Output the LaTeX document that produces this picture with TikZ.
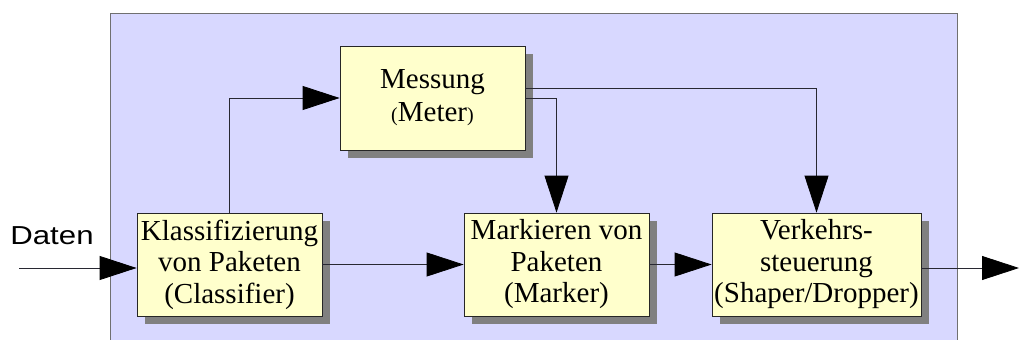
\documentclass[tikz,border=0pt]{standalone}
\usepackage{fontspec}
\usepackage{graphicx}
\setmainfont{Liberation Serif}
\newfontfamily\labelsans{Liberation Sans}
\usetikzlibrary{arrows.meta,shadows}
\definecolor{panel}{RGB}{216,216,255}
\definecolor{panelline}{RGB}{112,112,112}
\definecolor{boxfill}{RGB}{255,255,204}
\definecolor{shadowgray}{RGB}{128,128,128}
\definecolor{wire}{RGB}{40,40,50}
\newcommand{\smallparen}[1]{{\fontsize{20}{20}\selectfont #1}}
\begin{document}
\begin{tikzpicture}[x=1pt,y=-1pt,
  block/.style={draw=black!85, line width=0.8pt, fill=boxfill, minimum height=103pt,
    inner sep=0pt, align=center, font=\fontsize{29}{31.5}\selectfont,
    drop shadow={shadow xshift=8pt, shadow yshift=-8pt, fill=shadowgray, opacity=1}},
  flow/.style={draw=wire, line width=0.8pt,
    -{Triangle[length=37pt,width=24pt,fill=black,color=black]}}
]
\useasboundingbox (0,0) rectangle (1020,340);
% background panel
\filldraw[fill=panel, draw=panelline, line width=1pt] (110,13) rectangle (957,360);

% blocks
\node[block, minimum width=185pt] (cls) at (229.5,264.5) {Klassifizierung\\von Paketen\\(Classifier)};
\node[block, minimum width=185pt, minimum height=104pt, font=\fontsize{29}{33}\selectfont] (met) at (432.5,98) {Messung\\\smallparen{(}Meter\smallparen{)}};
\node[block, minimum width=185pt] (mar) at (556.5,264.5) {Markieren von\\Paketen\\(Marker)};
\node[block, minimum width=209pt] (ver) at (816.5,264.5) {Verkehrs-\\steuerung\\(Shaper/Dropper)};

% input label and free ends
\node[font=\labelsans\fontsize{26}{26}\selectfont] (lbl) at (52,236) {\scalebox{1.2}[1]{Daten}};
\coordinate (din) at (19,268);
\coordinate (dout) at (1019,268);

% connections
\draw[flow] (din) -- (cls.west |- din);
\draw[flow] (cls.north) |- (met.west);
\draw[flow] (cls.east) -- (mar.west);
\draw[flow] (met.east) -| (mar.north);
\draw[flow] ([yshift=10pt]met.east) -| (ver.north);
\draw[flow] (mar.east) -- (ver.west);
\draw[flow] (ver.east |- dout) -- (dout);
\end{tikzpicture}
\end{document}
